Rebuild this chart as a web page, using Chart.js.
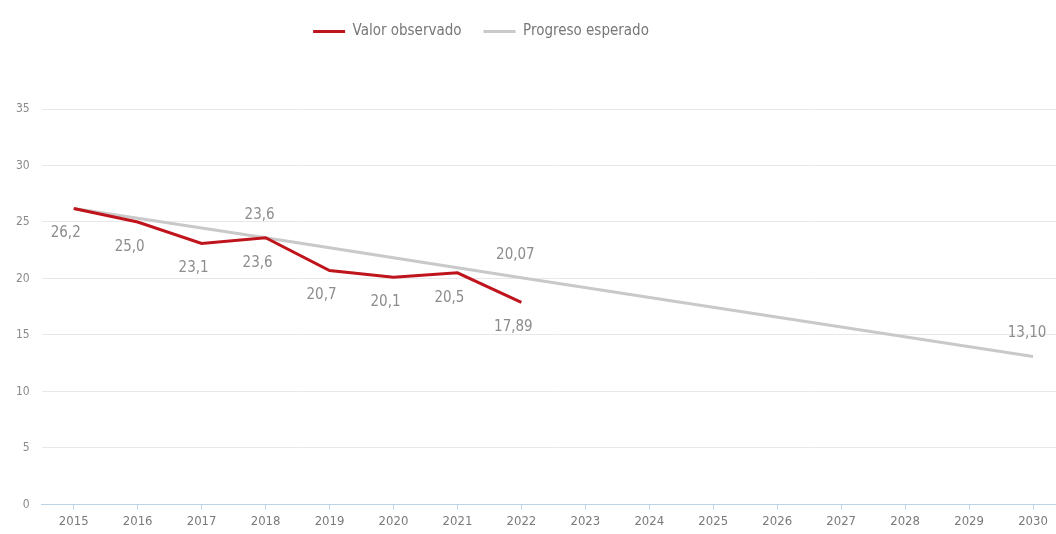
<!DOCTYPE html>
<html>
<head>
<meta charset="utf-8">
<script src="https://cdn.jsdelivr.net/npm/chart.js@4/dist/chart.umd.min.js"></script>
<style>
  html, body { margin: 0; padding: 0; background: #fff; overflow: hidden; }
  #wrap { width: 1065px; height: 534px; position: relative; }
</style>
</head>
<body>
<div id="wrap"><canvas id="myChart"></canvas></div>
<script>
// years on the x axis
const years = ["2015", "2016", "2017", "2018", "2019", "2020", "2021", "2022",
  "2023", "2024", "2025", "2026", "2027", "2028", "2029", "2030"];

// observed values (red)
const observed = [26.2, 25.0, 23.1, 23.6, 20.7, 20.1, 20.5, 17.89];

// expected progress (grey), only the labelled points, line spans the gaps
const expected = [26.2, null, null, 23.6, null, null, null, 20.07,
  null, null, null, null, null, null, null, 13.10];

const observedLabels = ["26,2", "25,0", "23,1", "23,6", "20,7", "20,1", "20,5", "17,89"];
const expectedLabels = [null, null, null, "23,6", null, null, null, "20,07",
  null, null, null, null, null, null, null, "13,10"];

const yTicks = [0, 5, 10, 15, 20, 25, 30, 35];

const FONT = "'Liberation Sans Narrow', 'DejaVu Sans Condensed', 'Roboto', sans-serif";

// value labels, red ones below the line, grey ones above
const valueLabels = {
  id: "valueLabels",
  afterDatasetsDraw(chart) {
    const ctx = chart.ctx;
    ctx.save();
    ctx.font = "15px " + FONT;
    ctx.fillStyle = "#8c8c8c";
    ctx.textAlign = "center";
    ctx.textBaseline = "middle";
    chart.getDatasetMeta(0).data.forEach((pt, i) => {
      if (!observedLabels[i]) return;
      ctx.fillText(observedLabels[i], pt.x - 8, pt.y + 25);
    });
    chart.getDatasetMeta(1).data.forEach((pt, i) => {
      if (!expectedLabels[i]) return;
      ctx.fillText(expectedLabels[i], pt.x - 6, pt.y - 23);
    });
    ctx.restore();
  }
};

// extra room under the legend, and legend centred a bit left
const legendGap = {
  id: "legendGap",
  beforeInit(chart) {
    const fit = chart.legend.fit;
    chart.legend.fit = function () {
      fit.bind(this)();
      this.height += 60;
    };
  },
  beforeDraw(chart) {
    chart.legend.left = 0;
    chart.legend.right = 962;
  }
};

new Chart(document.getElementById("myChart"), {
  type: "line",
  data: {
    labels: years,
    datasets: [
      {
        label: "Valor observado",
        data: observed,
        borderColor: "#c0141c",
        backgroundColor: "#c0141c",
        borderWidth: 3,
        pointRadius: 0,
        tension: 0,
        order: 1
      },
      {
        label: "Progreso esperado",
        data: expected,
        borderColor: "#c9c9c9",
        backgroundColor: "#c9c9c9",
        borderWidth: 3,
        pointRadius: 0,
        spanGaps: true,
        tension: 0,
        order: 2
      }
    ]
  },
  options: {
    responsive: true,
    maintainAspectRatio: false,
    animation: false,
    layout: { padding: { top: 2, left: 4, right: 0, bottom: 1 } },
    plugins: {
      legend: {
        labels: {
          boxWidth: 32,
          boxHeight: 3,
          padding: 22,
          color: "#777",
          font: { family: FONT, size: 15 },
          generateLabels(chart) {
            const items = Chart.defaults.plugins.legend.labels.generateLabels(chart);
            items.forEach(it => { it.lineWidth = 0; });
            return items;
          }
        }
      },
      tooltip: { enabled: false }
    },
    scales: {
      x: {
        offset: true,
        grid: {
          drawOnChartArea: false,
          drawTicks: true,
          tickLength: 5,
          color: "#bcd3e6"
        },
        border: { color: "#bcd3e6" },
        ticks: {
          color: "#7a7a7a",
          padding: 4,
          maxRotation: 0,
          font: { family: FONT, size: 13 }
        }
      },
      y: {
        min: 0,
        max: 35,
        afterBuildTicks(axis) {
          axis.ticks = yTicks.map(v => ({ value: v }));
        },
        grid: {
          color: "#e8e8e8",
          drawTicks: false
        },
        border: { display: false },
        ticks: {
          color: "#8a8a8a",
          padding: 12,
          font: { family: FONT, size: 12 }
        }
      }
    }
  },
  plugins: [valueLabels, legendGap]
});
</script>
</body>
</html>
